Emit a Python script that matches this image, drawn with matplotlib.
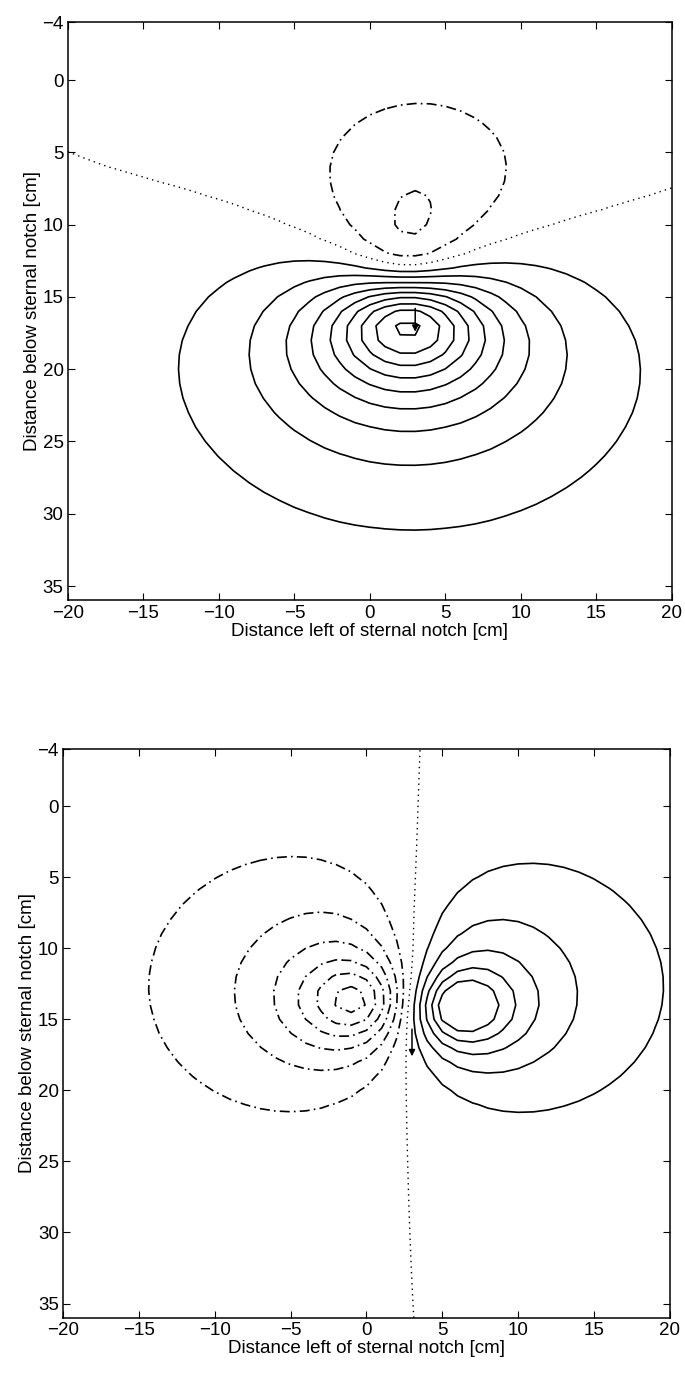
import numpy as np
import matplotlib
matplotlib.use("Agg")
import matplotlib.pyplot as plt

plt.rcParams['font.family'] = ['Liberation Sans', 'DejaVu Sans']

# Equivalent point sources: position (x, y) [cm], depth [cm], strength
top_src_x = [2.51, 2.49, 1.21, 3.57]
top_src_y = [16.40, 12.76, 20.06, 7.69]
top_src_depth = [3.81, 3.38, 21.38, 5.31]
top_src_q = [71.36, -35.70, -42.44, -13.21]
top_offset = -0.53
top_xscale = 0.80

bot_src_x = [5.855, -0.342, 5.239, 1.084]
bot_src_y = [14.156, 13.726, 8.985, 8.468]
bot_src_depth = [2.393, 2.765, 6.013, 5.999]
bot_src_q = [26.546, -30.853, 24.976, -20.716]
bot_offset = 0.005
bot_xscale = 0.842

# contour levels (in contour steps)
top_pos_levels = [1, 2, 3, 4, 5, 6, 7, 8, 9]
top_neg_levels = [-2, -1]
bot_pos_levels = [1, 2, 3, 4, 5]
bot_neg_levels = [-6, -5, -4, -3, -2, -1]

# arrow (x, y_start, y_end)
top_arrow = (3.0, 15.6, 17.6)
bot_arrow = (3.0, 15.5, 17.8)

x_ticks = [-20, -15, -10, -5, 0, 5, 10, 15, 20]
y_ticks = [-4, 0, 5, 10, 15, 20, 25, 30, 35]

# 1 cm measuring grid
xg = np.arange(-20, 20.01, 1.0)
yg = np.arange(-4, 36.01, 1.0)
X, Y = np.meshgrid(xg, yg)


def potential(sx, sy, sd, sq, offset, xscale):
    V = np.zeros_like(X) - offset
    for xi, yi, di, qi in zip(sx, sy, sd, sq):
        V += qi / np.sqrt((xscale * (X - xi)) ** 2 + (Y - yi) ** 2 + di ** 2)
    return V


fig = plt.figure(figsize=(6.85, 13.9), dpi=100)
ax1 = fig.add_axes([0.099, 0.568, 0.882, 0.416])
ax2 = fig.add_axes([0.092, 0.052, 0.886, 0.409])

panels = [
    (ax1, potential(top_src_x, top_src_y, top_src_depth, top_src_q, top_offset, top_xscale),
     top_pos_levels, top_neg_levels, top_arrow),
    (ax2, potential(bot_src_x, bot_src_y, bot_src_depth, bot_src_q, bot_offset, bot_xscale),
     bot_pos_levels, bot_neg_levels, bot_arrow),
]

for ax, V, pos, neg, arr in panels:
    ax.contour(X, Y, V, levels=pos, colors='k', linewidths=1.2, linestyles='solid')
    ax.contour(X, Y, V, levels=neg, colors='k', linewidths=1.2,
               linestyles=[(0, (6, 2.5, 1, 2.5))])
    ax.contour(X, Y, V, levels=[0], colors='k', linewidths=1.0, linestyles=[(0, (1, 3))])
    ax.annotate('', xy=(arr[0], arr[2]), xytext=(arr[0], arr[1]),
                arrowprops=dict(arrowstyle='-|>', lw=1.1, color='k', mutation_scale=9))
    ax.set_xlim(-20, 20)
    ax.set_ylim(36, -4)
    ax.set_xticks(x_ticks)
    ax.set_yticks(y_ticks)
    ax.tick_params(direction='in', top=True, right=True, length=5, labelsize=13.5, pad=3)
    ax.set_xlabel('Distance left of sternal notch [cm]', fontsize=13.5, labelpad=1)
    ax.set_ylabel('Distance below sternal notch [cm]', fontsize=13.5, labelpad=1)
    for s in ax.spines.values():
        s.set_linewidth(1.1)

fig.savefig("out.png", dpi=100)
